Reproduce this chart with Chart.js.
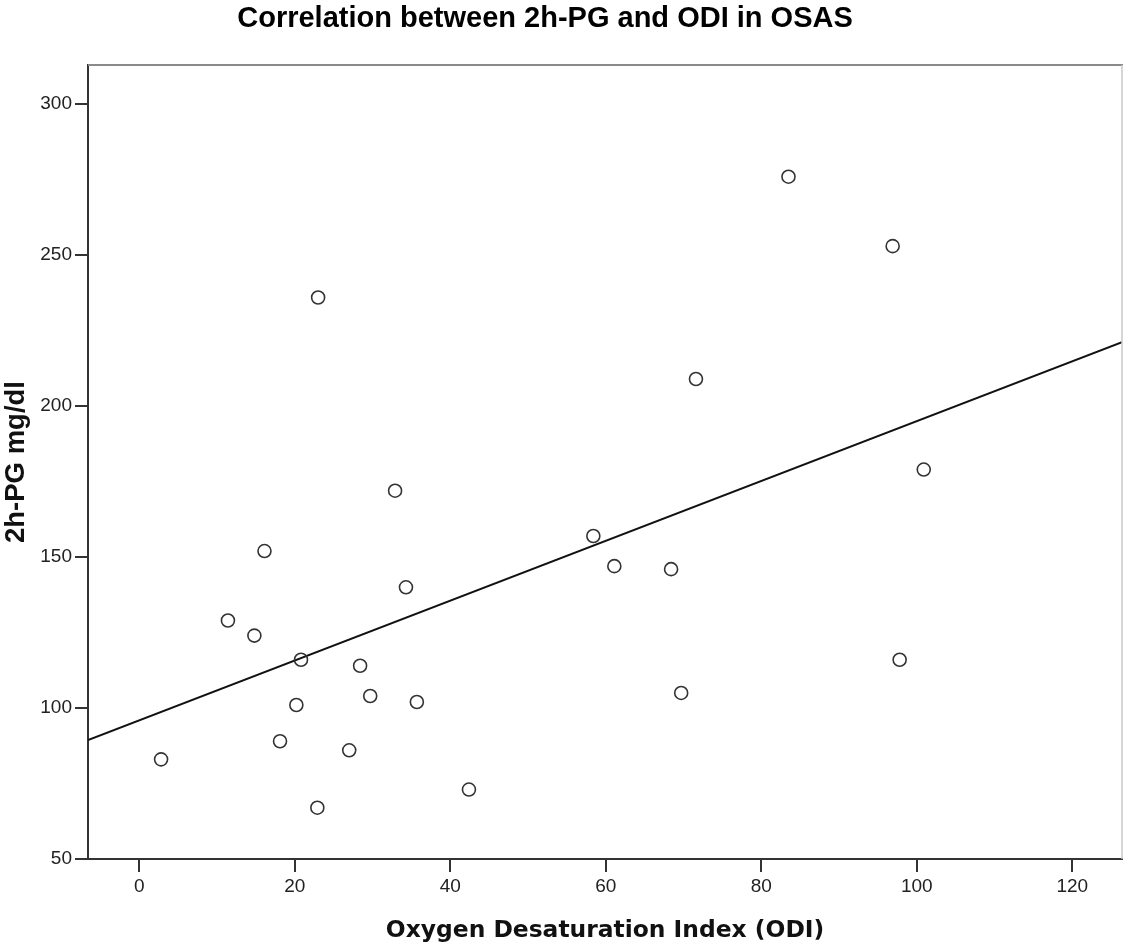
<!DOCTYPE html>
<html>
<head>
<meta charset="utf-8">
<script src="https://cdn.jsdelivr.net/npm/chart.js@4"></script>
<style>
  html, body { margin: 0; padding: 0; background: #fff; overflow: hidden; }
  #wrap { width: 1123px; height: 945px; position: relative; }
</style>
</head>
<body>
<div id="wrap"><canvas id="myChart" width="1123" height="945"></canvas></div>
<script>
// ODI (x) and 2h-PG (y) for each patient
const odiValues = [2.8, 11.4, 14.8, 16.1, 23.0, 20.8, 20.2, 18.1, 22.9, 27.0, 28.4, 29.7, 32.9, 34.3, 35.7, 42.4,
                   58.4, 61.1, 68.4, 69.7, 71.6, 83.5, 96.9, 97.8, 100.9];
const pgValues  = [83, 129, 124, 152, 236, 116, 101, 89, 67, 86, 114, 104, 172, 140, 102, 73,
                   157, 147, 146, 105, 209, 276, 253, 116, 179];

// fit line ends (at the plot edges)
const fitOdi = [-6.6, 126.4];
const fitPg  = [89.4, 221.2];

const xTickValues = [0, 20, 40, 60, 80, 100, 120];
const yTickValues = [50, 100, 150, 200, 250, 300];

const chartTitle = 'Correlation between 2h-PG and ODI in OSAS';
const xTitle = 'Oxygen Desaturation Index (ODI)';
const yTitle = '2h-PG mg/dl';

const points = odiValues.map((x, i) => ({ x: x, y: pgValues[i] }));
const fitLine = fitOdi.map((x, i) => ({ x: x, y: fitPg[i] }));

// frame on top/right + main title
const framePlugin = {
  id: 'frame',
  afterDraw(chart) {
    const ctx = chart.ctx;
    const a = chart.chartArea;
    ctx.save();
    ctx.strokeStyle = '#8a8a8a';
    ctx.lineWidth = 2;
    ctx.beginPath();
    ctx.moveTo(a.left, a.top);
    ctx.lineTo(a.right + 1, a.top);
    ctx.stroke();
    ctx.strokeStyle = '#c8c8c8';
    ctx.lineWidth = 1.5;
    ctx.beginPath();
    ctx.moveTo(a.right, a.top);
    ctx.lineTo(a.right, a.bottom);
    ctx.stroke();

    ctx.fillStyle = '#000';
    ctx.font = 'bold 29px "Liberation Sans", Arial, sans-serif';
    ctx.textAlign = 'center';
    ctx.textBaseline = 'middle';
    ctx.fillText(chartTitle, 545, 19);
    ctx.restore();
  }
};

const ctx = document.getElementById('myChart').getContext('2d');
new Chart(ctx, {
  type: 'scatter',
  data: {
    datasets: [
      {
        data: points,
        showLine: false,
        pointStyle: 'circle',
        pointRadius: 6.5,
        pointBorderWidth: 1.6,
        pointBorderColor: '#333',
        pointBackgroundColor: 'rgba(255,255,255,0)',
        order: 1
      },
      {
        data: fitLine,
        showLine: true,
        borderColor: '#111',
        borderWidth: 2,
        pointRadius: 0,
        fill: false,
        order: 2
      }
    ]
  },
  options: {
    responsive: false,
    animation: false,
    layout: { autoPadding: false, padding: { top: 65, right: 1, left: 0, bottom: 0 } },
    plugins: {
      legend: { display: false },
      tooltip: { enabled: false }
    },
    scales: {
      x: {
        type: 'linear',
        min: fitOdi[0],
        max: fitOdi[1],
        afterBuildTicks: s => { s.ticks = xTickValues.map(v => ({ value: v })); },
        afterFit: s => { s.height = 86; },
        border: { display: true, color: '#333', width: 2 },
        grid: { drawOnChartArea: false, drawTicks: true, tickLength: 13, color: '#333', lineWidth: 2 },
        ticks: { color: '#222', padding: 3, font: { family: '"Liberation Sans", Arial, sans-serif', size: 19 } },
        title: {
          display: true,
          text: xTitle,
          color: '#111',
          padding: { top: 0, bottom: 0 },
          font: { family: '"DejaVu Sans", Verdana, sans-serif', size: 23.4, weight: 'bold' }
        }
      },
      y: {
        type: 'linear',
        min: 50,
        max: 313,
        afterBuildTicks: s => { s.ticks = yTickValues.map(v => ({ value: v })); },
        afterFit: s => { s.width = 88; },
        border: { display: true, color: '#333', width: 2 },
        grid: { drawOnChartArea: false, drawTicks: true, tickLength: 13, color: '#333', lineWidth: 2 },
        ticks: { color: '#222', padding: 3, font: { family: '"Liberation Sans", Arial, sans-serif', size: 19 } },
        title: {
          display: true,
          text: yTitle,
          color: '#111',
          padding: { top: 0, bottom: 0 },
          font: { family: '"Liberation Sans", Arial, sans-serif', size: 27.5, weight: 'bold' }
        }
      }
    }
  },
  plugins: [framePlugin]
});
</script>
</body>
</html>
